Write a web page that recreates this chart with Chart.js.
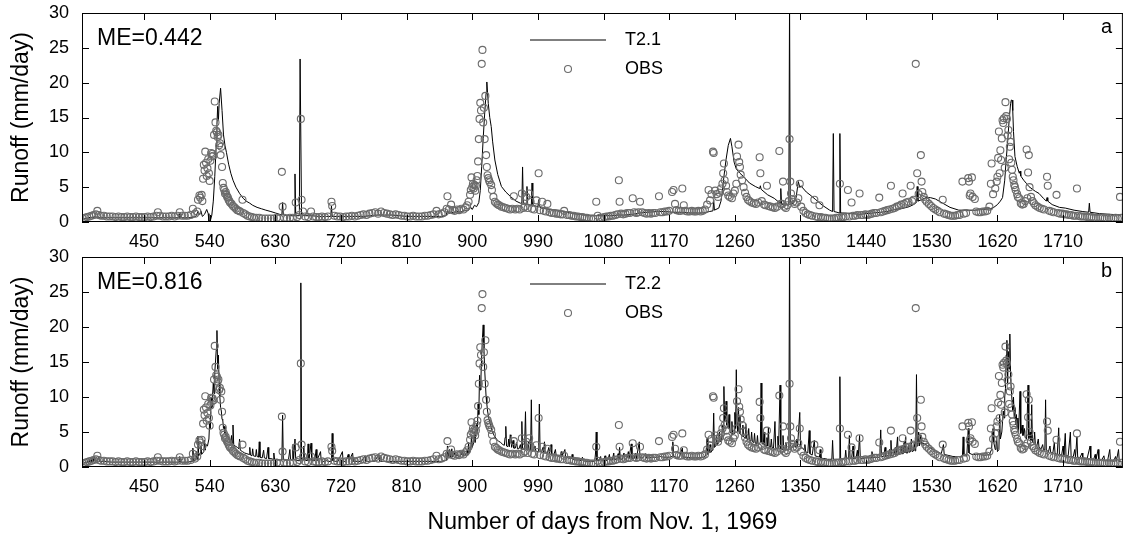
<!DOCTYPE html>
<html>
<head>
<meta charset="utf-8">
<title>Runoff T2.1 / T2.2 vs OBS</title>
<script src="https://cdn.jsdelivr.net/npm/chart.js@4.4.0/dist/chart.umd.min.js"></script>
<style>
    html, body { margin: 0; padding: 0; background: #fff; }
    #wrap { position: relative; width: 1128px; height: 539px; }
    .panel { position: absolute; left: 0; width: 1128px; }
</style>
</head>
<body>
<div id="wrap">
    <div class="panel" style="top:0;height:252px"><canvas id="panel-a"></canvas></div>
    <div class="panel" style="top:240px;height:299px"><canvas id="panel-b"></canvas></div>
</div>
<script>
// ---- data ----
const xTickDays = [450, 540, 630, 720, 810, 900, 990, 1080, 1170, 1260, 1350, 1440, 1530, 1620, 1710];
const yTickRunoff = [0, 5, 10, 15, 20, 25, 30];

// observed runoff (mm/day)
const obsDays = [
    366, 369, 372, 375, 378, 381, 384, 386, 388, 391, 395, 399, 403, 407, 411, 415, 419, 423, 427, 431,
    435, 439, 443, 447, 451, 455, 459, 463, 467, 469, 472, 476, 480, 484, 488, 492, 496, 499, 502, 506,
    510, 514, 517, 520, 523, 524, 526, 527, 529, 530, 531, 532, 533, 534, 535, 536, 537, 538, 539, 540,
    541, 542, 543, 544, 545, 546, 547, 548, 549, 550, 551, 552, 553, 554, 555, 556, 557, 558, 559, 560,
    561, 562, 563, 564, 565, 566, 567, 568, 570, 572, 574, 576, 578, 580, 582, 585, 586, 589, 592, 595,
    598, 601, 604, 608, 612, 616, 620, 624, 628, 632, 636, 639, 640, 642, 646, 650, 654, 658, 660, 663,
    665, 666, 668, 671, 675, 679, 682, 686, 690, 694, 698, 702, 707, 708, 711, 715, 719, 723, 727, 731,
    735, 739, 743, 747, 751, 755, 759, 763, 767, 771, 775, 779, 783, 787, 791, 795, 799, 803, 807, 811,
    815, 819, 823, 827, 831, 835, 839, 843, 847, 851, 854, 858, 862, 865, 866, 868, 871, 873, 876, 879,
    882, 885, 888, 891, 893, 895, 897, 898, 899, 900, 901, 902, 903, 904, 905, 906, 907, 908, 909, 910,
    911, 912, 913, 914, 915, 916, 917, 918, 919, 920, 921, 922, 923, 924, 926, 927, 929, 931, 933, 935,
    937, 940, 943, 946, 949, 952, 955, 957, 959, 962, 965, 968, 970, 972, 974, 976, 978, 980, 982, 985,
    988, 991, 993, 996, 998, 1001, 1003, 1006, 1009, 1012, 1015, 1018, 1021, 1024, 1026, 1030, 1033, 1036, 1039,
    1042, 1045, 1048, 1051, 1054, 1057, 1060, 1063, 1066, 1070, 1072, 1075, 1078, 1081, 1084, 1087, 1090, 1093, 1096, 1099,
    1101, 1102, 1104, 1107, 1110, 1113, 1116, 1120, 1122, 1125, 1128, 1130, 1133, 1136, 1139, 1142, 1145, 1148, 1151, 1156,
    1158, 1161, 1164, 1167, 1170, 1174, 1176, 1178, 1180, 1183, 1186, 1188, 1190, 1192, 1195, 1198, 1201, 1204, 1207, 1210,
    1213, 1216, 1219, 1222, 1224, 1226, 1228, 1230, 1231, 1233, 1235, 1237, 1239, 1241, 1243, 1244, 1245, 1246, 1248, 1249,
    1251, 1253, 1256, 1258, 1260, 1262, 1263, 1265, 1266, 1267, 1268, 1270, 1272, 1274, 1276, 1278, 1280, 1283, 1286, 1289,
    1292, 1294, 1295, 1297, 1300, 1302, 1304, 1306, 1309, 1312, 1315, 1318, 1321, 1323, 1325, 1326, 1328, 1330, 1332, 1334,
    1335, 1336, 1337, 1338, 1340, 1342, 1345, 1347, 1349, 1351, 1354, 1357, 1360, 1363, 1366, 1369, 1371, 1374, 1376, 1378,
    1381, 1384, 1387, 1390, 1393, 1396, 1399, 1402, 1404, 1406, 1409, 1412, 1415, 1417, 1420, 1422, 1425, 1428, 1431, 1433,
    1436, 1439, 1442, 1445, 1448, 1451, 1454, 1458, 1460, 1463, 1466, 1469, 1472, 1474, 1476, 1479, 1482, 1485, 1488, 1490,
    1492, 1495, 1498, 1501, 1503, 1505, 1508, 1510, 1512, 1515, 1516, 1517, 1519, 1521, 1523, 1526, 1529, 1532, 1535, 1538,
    1541, 1545, 1547, 1550, 1553, 1556, 1559, 1562, 1565, 1568, 1572, 1574, 1577, 1580, 1581, 1582, 1583, 1585, 1586, 1589,
    1591, 1594, 1597, 1600, 1603, 1606, 1609, 1611, 1612, 1614, 1617, 1619, 1620, 1621, 1622, 1623, 1624, 1625, 1626, 1627,
    1628, 1629, 1630, 1631, 1632, 1633, 1634, 1635, 1636, 1637, 1638, 1639, 1640, 1641, 1642, 1643, 1644, 1645, 1647, 1648,
    1650, 1652, 1654, 1656, 1658, 1660, 1661, 1662, 1663, 1664, 1666, 1668, 1670, 1672, 1675, 1678, 1681, 1684, 1688, 1689,
    1691, 1694, 1697, 1701, 1703, 1706, 1709, 1712, 1715, 1718, 1721, 1724, 1727, 1729, 1731, 1734, 1737, 1740, 1743, 1746,
    1749, 1752, 1755, 1758, 1761, 1764, 1767, 1770, 1773, 1776, 1779, 1782, 1785, 1788, 1790
];
const obsRunoff = [
    0.5, 0.6, 0.7, 0.8, 0.9, 1.0, 1.1, 1.6, 1.0, 0.9, 0.9, 0.8, 0.8, 0.8, 0.7, 0.8, 0.7, 0.7, 0.8, 0.7,
    0.7, 0.8, 0.7, 0.7, 0.7, 0.8, 0.7, 0.8, 0.9, 1.4, 0.9, 0.8, 0.8, 0.8, 0.9, 0.8, 0.9, 1.4, 0.9, 0.9,
    0.9, 1.0, 1.9, 1.2, 1.5, 3.2, 3.8, 3.5, 3.9, 3.0, 6.2, 8.2, 7.4, 10.1, 8.5, 6.6, 7.7, 9.0, 7.0, 5.9,
    8.8, 9.9, 9.4, 9.8, 9.5, 12.5, 17.3, 14.3, 13.1, 12.9, 12.2, 12.5, 11.0, 11.3, 9.6, 10.8, 7.9, 5.6, 4.9, 4.6,
    4.1, 4.3, 3.9, 3.6, 3.5, 3.2, 3.0, 2.8, 2.6, 2.3, 2.1, 1.9, 1.7, 1.6, 1.5, 3.2, 1.3, 1.1, 0.9, 0.8,
    0.7, 0.6, 0.6, 0.6, 0.5, 0.5, 0.5, 0.5, 0.5, 0.6, 0.5, 7.2, 2.2, 0.6, 0.5, 0.6, 0.6, 2.8, 0.7, 1.0,
    14.8, 3.2, 1.5, 0.8, 0.7, 1.5, 0.8, 0.7, 0.7, 0.8, 0.7, 0.8, 2.9, 2.3, 0.9, 0.8, 0.8, 0.7, 0.8, 0.8,
    0.9, 0.8, 0.9, 1.0, 1.1, 1.0, 1.2, 1.3, 1.4, 1.2, 1.5, 1.3, 1.2, 1.1, 1.0, 1.1, 1.0, 0.9, 0.9, 0.8,
    0.8, 0.9, 0.8, 0.8, 0.8, 0.9, 0.9, 1.0, 1.1, 1.6, 1.1, 1.2, 1.4, 1.9, 3.7, 1.8, 2.5, 1.7, 1.6, 1.8,
    1.7, 1.9, 1.8, 2.1, 2.4, 2.9, 3.9, 4.6, 6.4, 5.0, 5.5, 4.8, 5.3, 4.5, 5.2, 6.0, 6.6, 8.7, 11.9, 14.8,
    17.1, 16.0, 22.7, 24.7, 14.3, 16.4, 11.9, 18.1, 9.6, 7.9, 6.7, 6.3, 6.0, 5.7, 5.3, 4.6, 3.6, 2.9, 2.7, 2.5,
    2.4, 2.2, 2.1, 2.0, 1.9, 1.8, 1.9, 3.7, 1.8, 1.9, 1.8, 4.1, 2.0, 2.2, 3.6, 2.0, 4.1, 2.9, 1.9, 1.8,
    3.1, 7.0, 1.7, 2.9, 1.6, 1.5, 2.6, 1.4, 1.3, 1.3, 1.2, 1.2, 1.1, 1.1, 1.6, 1.0, 1.0, 0.9, 0.9,
    0.8, 0.8, 0.7, 0.7, 0.6, 0.6, 0.5, 0.5, 0.5, 2.9, 0.9, 0.6, 0.6, 0.7, 0.8, 0.8, 0.9, 0.9, 1.0, 1.1,
    6.0, 2.9, 1.2, 1.1, 1.2, 1.3, 1.3, 3.4, 1.4, 1.3, 1.4, 2.9, 1.4, 1.3, 1.2, 1.3, 1.2, 1.3, 1.3, 3.7,
    1.4, 1.4, 1.5, 1.5, 1.6, 4.3, 4.6, 2.6, 1.7, 1.6, 1.6, 4.8, 2.4, 1.6, 1.5, 1.5, 1.6, 1.5, 1.5, 1.6,
    1.5, 1.6, 1.8, 2.5, 4.6, 3.1, 4.0, 10.1, 9.9, 4.5, 4.0, 3.6, 4.2, 4.8, 5.5, 7.0, 8.4, 6.0, 5.2, 4.3,
    3.8, 3.6, 3.4, 4.1, 4.5, 5.5, 9.4, 11.1, 8.6, 7.9, 6.8, 6.0, 5.0, 4.2, 3.6, 3.2, 3.0, 2.8, 2.7, 2.6,
    2.8, 9.3, 7.0, 3.0, 2.5, 2.4, 5.2, 2.3, 2.2, 2.1, 2.0, 2.2, 10.2, 2.6, 2.6, 5.8, 2.2, 2.0, 2.4, 3.0,
    11.9, 5.8, 4.1, 3.3, 2.9, 2.6, 2.8, 3.4, 5.5, 2.2, 1.6, 1.3, 1.1, 1.0, 0.9, 3.2, 0.8, 0.7, 2.4, 0.7,
    0.6, 0.6, 0.5, 0.5, 0.5, 0.5, 0.6, 0.6, 5.5, 0.7, 0.7, 0.8, 4.6, 0.8, 2.8, 0.9, 0.9, 1.0, 4.1, 1.0,
    1.0, 1.1, 1.0, 1.1, 1.2, 1.3, 1.3, 3.5, 1.4, 1.5, 1.6, 1.7, 1.8, 5.2, 1.9, 2.0, 2.2, 2.3, 2.5, 4.1,
    2.6, 2.8, 2.9, 5.2, 3.0, 3.2, 22.7, 7.0, 4.0, 9.6, 5.8, 4.3, 3.6, 3.2, 2.9, 2.6, 2.3, 2.0, 1.8, 1.6,
    1.4, 3.2, 1.2, 1.1, 1.0, 0.9, 0.9, 0.9, 1.0, 1.0, 5.8, 1.2, 1.3, 6.3, 5.8, 3.8, 4.1, 6.4, 3.6, 3.3,
    1.5, 1.4, 1.4, 1.5, 1.5, 1.6, 2.2, 5.5, 8.4, 4.0, 4.8, 5.8, 6.5, 9.2, 13.0, 7.0, 10.3, 8.9, 12.0, 14.6,
    14.2, 14.9, 7.8, 17.2, 15.2, 14.8, 12.4, 13.2, 9.0, 10.8, 11.5, 8.5, 7.5, 6.5, 6.0, 5.3, 5.0, 4.6, 4.0, 3.6,
    3.4, 2.7, 2.5, 2.6, 3.0, 10.4, 3.4, 7.1, 9.6, 5.0, 3.6, 3.0, 2.7, 2.4, 2.2, 2.0, 1.9, 1.8, 6.5, 5.2,
    1.6, 1.5, 1.4, 3.9, 1.3, 1.2, 1.2, 1.1, 1.1, 1.0, 1.0, 0.9, 0.9, 4.8, 0.9, 0.8, 0.8, 0.8, 0.7, 0.7,
    0.7, 0.6, 0.6, 0.6, 0.6, 0.6, 0.5, 0.5, 0.6, 0.5, 0.5, 0.6, 0.5, 3.6, 0.6
];

// simulation T2.1 (mm/day)
const t21Days = [
    366, 370, 374, 377, 380, 383, 386, 390, 400, 410, 420, 430, 440, 450, 460, 470, 480, 490, 498, 499,
    500, 510, 518, 521, 524, 526, 528, 530, 533, 536, 538, 539, 541, 543, 545, 547, 549, 550, 551, 552,
    553, 555, 557, 559, 561, 563, 566, 569, 572, 576, 581, 586, 590, 595, 599, 605, 611, 617, 624, 630,
    636, 639, 640, 641, 648, 656, 657, 658, 663, 664, 665, 666, 672, 680, 690, 700, 706, 707, 708, 720,
    730, 740, 750, 760, 770, 780, 790, 800, 810, 820, 830, 840, 850, 860, 864, 866, 868, 871, 874, 878,
    882, 886, 890, 894, 898, 900, 903, 906, 909, 911, 913, 915, 917, 919, 920, 922, 924, 926, 928, 931,
    935, 940, 946, 953, 960, 966, 968, 969, 970, 974, 975, 976, 981, 982, 983, 990, 991, 992, 995, 1005,
    1015, 1026, 1035, 1045, 1055, 1063, 1070, 1080, 1090, 1100, 1108, 1120, 1130, 1140, 1154, 1165, 1175, 1185, 1199, 1210,
    1217, 1225, 1230, 1231, 1232, 1238, 1241, 1243, 1245, 1248, 1251, 1254, 1256, 1259, 1262, 1267, 1272, 1280, 1288, 1294,
    1295, 1296, 1305, 1314, 1322, 1323, 1324, 1328, 1333, 1334, 1335, 1336, 1340, 1344, 1347, 1349, 1351, 1353, 1358, 1363,
    1371, 1380, 1390, 1394, 1395, 1396, 1400, 1403, 1404, 1405, 1408, 1420, 1431, 1440, 1450, 1460, 1468, 1476, 1485, 1492,
    1499, 1505, 1509, 1510, 1511, 1516, 1522, 1528, 1535, 1545, 1555, 1567, 1578, 1590, 1600, 1610, 1615, 1620, 1624, 1627,
    1630, 1632, 1634, 1636, 1638, 1639, 1640, 1641, 1642, 1644, 1647, 1650, 1651, 1652, 1656, 1660, 1663, 1668, 1672, 1677,
    1683, 1687, 1688, 1689, 1695, 1705, 1713, 1725, 1737, 1745, 1746, 1747, 1760, 1775, 1790
];
const t21Runoff = [
    0.4, 0.5, 0.6, 0.7, 0.6, 0.8, 0.6, 0.6, 0.6, 0.6, 0.6, 0.6, 0.6, 0.6, 0.6, 0.6, 0.6, 0.6, 0.6, 1.2,
    0.6, 0.6, 0.7, 0.8, 1.5, 1.0, 1.6, 0.8, 1.1, 1.8, 1.2, 0.1, 0.2, 1.0, 3.0, 6.5, 11.0, 14.0, 16.6, 14.5,
    17.0, 19.2, 16.0, 12.5, 11.0, 10.0, 8.3, 7.0, 6.0, 5.0, 4.1, 3.4, 3.0, 2.7, 2.4, 2.1, 1.9, 1.7, 1.5, 1.3,
    1.1, 1.0, 2.8, 1.0, 0.9, 0.9, 6.9, 0.9, 0.9, 23.4, 23.4, 1.0, 0.9, 0.9, 0.8, 0.8, 0.8, 2.3, 0.8, 0.8,
    0.8, 0.8, 0.8, 0.9, 1.0, 1.0, 1.0, 0.9, 0.8, 0.8, 0.8, 0.8, 0.8, 0.8, 0.9, 1.6, 1.2, 1.5, 1.3, 1.6,
    1.4, 1.5, 1.7, 1.6, 2.1, 1.8, 2.4, 2.2, 2.8, 4.5, 8.0, 12.0, 15.5, 18.5, 20.1, 17.0, 15.0, 13.7, 11.5, 8.9,
    6.8, 5.1, 4.3, 3.6, 3.0, 2.7, 2.7, 7.9, 2.7, 2.5, 5.1, 2.5, 2.4, 5.6, 2.4, 2.2, 3.2, 2.2, 2.0, 1.8,
    1.7, 1.5, 1.3, 1.1, 1.0, 0.9, 0.9, 0.9, 0.9, 1.0, 1.0, 1.1, 1.3, 1.4, 1.5, 1.5, 1.4, 1.4, 1.3, 1.3,
    1.3, 1.5, 1.6, 3.2, 1.7, 2.0, 3.0, 4.5, 6.5, 9.0, 11.0, 12.0, 10.8, 8.6, 7.6, 7.0, 6.5, 5.6, 5.1, 4.8,
    5.2, 4.7, 3.9, 3.4, 2.7, 4.8, 2.6, 2.4, 2.5, 2.6, 32, 2.7, 2.6, 3.5, 5.8, 5.0, 5.2, 4.9, 4.3, 3.9,
    3.2, 2.4, 1.7, 1.5, 12.7, 1.5, 1.4, 1.3, 12.7, 1.3, 1.3, 1.2, 1.1, 1.2, 1.3, 1.4, 1.5, 1.7, 1.9, 2.0,
    2.2, 2.5, 2.8, 5.1, 3.0, 3.2, 3.5, 3.5, 3.3, 2.7, 2.1, 1.7, 1.7, 1.7, 1.8, 1.9, 2.1, 2.5, 3.0, 3.5,
    6.0, 9.0, 11.5, 14.5, 17.0, 17.5, 17.5, 16.0, 13.0, 9.4, 8.0, 7.0, 7.3, 6.6, 6.0, 5.5, 5.1, 4.7, 4.4, 4.1,
    3.4, 3.0, 3.5, 3.0, 2.5, 2.1, 2.0, 1.7, 1.5, 1.4, 2.7, 1.4, 1.2, 1.1, 1.0
];

// simulation T2.2 (mm/day)
const t22Days = [
    366, 368, 370, 371, 373, 374, 376, 377, 379, 380, 382, 383, 386, 388, 389, 395, 405, 415, 425, 435,
    445, 455, 465, 475, 485, 495, 498, 499, 500, 510, 516, 517, 518, 521, 522, 523, 524, 525, 527, 528,
    529, 532, 533, 534, 535, 537, 539, 540, 541, 542, 543, 545, 546, 547, 548, 549, 550, 551, 552, 553,
    554, 555, 556, 557, 558, 559, 560, 561, 563, 565, 567, 569, 570, 571, 572, 573, 575, 578, 580, 581,
    582, 585, 588, 591, 594, 595, 596, 598, 599, 600, 603, 604, 605, 607, 608, 609, 612, 614, 615, 618,
    620, 621, 624, 627, 628, 629, 633, 636, 639, 640, 641, 645, 648, 650, 651, 653, 654, 655, 657, 658,
    661, 664, 665, 666, 668, 669, 670, 674, 675, 676, 679, 680, 684, 686, 687, 692, 693, 697, 700, 703,
    707, 708, 709, 713, 716, 722, 723, 727, 730, 731, 736, 737, 742, 748, 753, 754, 760, 766, 772, 773,
    778, 785, 790, 800, 810, 820, 830, 840, 850, 858, 862, 865, 866, 867, 869, 870, 872, 873, 876, 877,
    879, 881, 884, 887, 888, 891, 893, 894, 895, 896, 898, 899, 900, 902, 903, 904, 906, 907, 908, 909,
    910, 911, 912, 913, 914, 915, 916, 917, 918, 919, 920, 921, 923, 925, 927, 930, 933, 936, 939, 942,
    944, 945, 946, 947, 949, 950, 951, 952, 953, 954, 956, 957, 959, 961, 962, 964, 966, 967, 968, 969,
    971, 972, 973, 974, 976, 977, 978, 980, 981, 982, 984, 986, 987, 989, 991, 992, 993, 995, 997, 998,
    999, 1000, 1003, 1005, 1006, 1008, 1009, 1012, 1014, 1015, 1018, 1021, 1022, 1023, 1027, 1028, 1032, 1036, 1037, 1038,
    1042, 1046, 1050, 1051, 1052, 1056, 1060, 1064, 1068, 1069, 1070, 1071, 1074, 1076, 1077, 1080, 1082, 1083, 1086, 1088,
    1089, 1092, 1094, 1095, 1098, 1100, 1101, 1102, 1103, 1106, 1108, 1109, 1112, 1114, 1115, 1118, 1119, 1122, 1124, 1125,
    1129, 1130, 1134, 1137, 1138, 1142, 1146, 1150, 1154, 1158, 1162, 1166, 1170, 1174, 1175, 1176, 1180, 1184, 1188, 1189,
    1194, 1200, 1206, 1212, 1217, 1220, 1221, 1222, 1223, 1225, 1226, 1227, 1229, 1230, 1231, 1232, 1234, 1235, 1236, 1238,
    1239, 1240, 1242, 1243, 1244, 1245, 1246, 1247, 1248, 1249, 1251, 1252, 1253, 1255, 1256, 1257, 1259, 1260, 1261, 1262,
    1263, 1264, 1265, 1266, 1267, 1268, 1270, 1271, 1272, 1274, 1275, 1276, 1278, 1279, 1280, 1282, 1283, 1284, 1286, 1287,
    1288, 1290, 1291, 1292, 1295, 1296, 1297, 1299, 1300, 1301, 1303, 1304, 1305, 1306, 1307, 1309, 1310, 1311, 1313, 1315,
    1316, 1318, 1319, 1320, 1322, 1323, 1325, 1326, 1327, 1329, 1330, 1331, 1333, 1334, 1335, 1336, 1338, 1340, 1342, 1343,
    1345, 1346, 1349, 1350, 1352, 1355, 1356, 1357, 1360, 1362, 1363, 1366, 1369, 1370, 1373, 1376, 1377, 1378, 1381, 1384,
    1387, 1390, 1393, 1394, 1395, 1398, 1400, 1403, 1404, 1405, 1408, 1411, 1412, 1413, 1416, 1417, 1418, 1420, 1422, 1423,
    1426, 1428, 1429, 1431, 1432, 1435, 1438, 1441, 1444, 1447, 1448, 1449, 1452, 1455, 1458, 1459, 1460, 1461, 1464, 1466,
    1467, 1470, 1472, 1473, 1474, 1475, 1478, 1480, 1481, 1483, 1484, 1486, 1488, 1489, 1491, 1492, 1493, 1494, 1495, 1497,
    1498, 1499, 1501, 1502, 1503, 1505, 1506, 1507, 1508, 1509, 1510, 1511, 1512, 1513, 1515, 1516, 1518, 1520, 1523, 1527,
    1531, 1535, 1539, 1543, 1546, 1547, 1551, 1555, 1559, 1563, 1567, 1572, 1573, 1574, 1578, 1580, 1581, 1585, 1590, 1595,
    1600, 1605, 1609, 1612, 1613, 1614, 1615, 1617, 1618, 1619, 1620, 1622, 1623, 1624, 1626, 1627, 1628, 1629, 1630, 1631,
    1632, 1633, 1634, 1635, 1636, 1637, 1638, 1639, 1640, 1641, 1642, 1643, 1644, 1645, 1646, 1647, 1648, 1649, 1651, 1652,
    1654, 1655, 1657, 1658, 1660, 1662, 1663, 1665, 1666, 1667, 1668, 1670, 1671, 1672, 1674, 1676, 1677, 1680, 1682, 1683,
    1685, 1686, 1687, 1690, 1692, 1693, 1696, 1698, 1699, 1702, 1704, 1705, 1708, 1710, 1711, 1713, 1714, 1717, 1720, 1721,
    1724, 1726, 1727, 1729, 1730, 1733, 1736, 1737, 1740, 1743, 1747, 1748, 1752, 1754, 1755, 1758, 1759, 1763, 1766, 1767,
    1771, 1774, 1775, 1779, 1782, 1783, 1786, 1787, 1790
];
const t22Runoff = [
    0.3, 0.5, 0.8, 0.4, 0.9, 0.5, 1.0, 0.6, 1.2, 0.7, 1.4, 0.8, 0.9, 1.5, 0.8, 0.8, 0.7, 0.7, 0.7, 0.7,
    0.7, 0.7, 0.7, 0.7, 0.7, 0.7, 0.7, 1.5, 0.7, 0.7, 0.8, 2.7, 0.9, 1.0, 2.2, 1.1, 4.4, 1.6, 2.0, 3.0,
    1.8, 2.2, 3.8, 2.4, 3.2, 3.0, 4.0, 6.5, 5.5, 10.0, 8.5, 12.0, 10.5, 13.5, 15.0, 16.7, 19.5, 14.0, 16.0, 12.0,
    10.0, 8.5, 8.0, 6.8, 6.7, 5.5, 5.8, 4.8, 4.5, 4.2, 4.0, 3.6, 4.5, 3.4, 6.0, 3.2, 3.0, 2.8, 2.6, 4.0,
    2.4, 2.2, 2.0, 1.9, 1.8, 2.8, 1.7, 1.6, 2.6, 1.6, 1.5, 2.5, 1.5, 1.4, 3.6, 1.4, 1.3, 2.4, 1.3, 1.2,
    2.8, 1.2, 1.2, 1.1, 2.0, 1.1, 1.1, 1.0, 1.0, 7.4, 1.0, 1.0, 1.0, 2.5, 1.0, 1.0, 3.2, 1.0, 4.0, 1.0,
    0.9, 0.9, 26.3, 1.0, 1.0, 3.0, 1.0, 0.9, 3.3, 0.9, 3.4, 0.9, 0.9, 2.5, 0.9, 2.2, 0.8, 0.8, 0.9, 0.8,
    0.8, 4.8, 0.9, 0.8, 0.8, 2.2, 0.8, 0.8, 1.8, 0.8, 2.0, 0.8, 0.8, 0.8, 1.6, 0.8, 0.8, 0.8, 1.8, 0.8,
    0.8, 0.8, 0.8, 0.8, 0.8, 0.8, 0.8, 0.8, 0.8, 0.8, 0.9, 1.0, 3.0, 1.4, 2.5, 1.3, 2.6, 1.4, 2.0, 1.4,
    1.8, 1.5, 1.6, 2.2, 1.6, 1.7, 2.4, 1.8, 3.5, 2.0, 2.5, 4.6, 2.8, 3.5, 5.0, 3.5, 6.2, 5.0, 9.0, 7.5,
    13.1, 11.0, 13.0, 16.0, 18.5, 20.3, 17.0, 14.0, 12.0, 10.0, 9.0, 8.0, 6.8, 6.0, 5.2, 4.5, 4.0, 3.7, 3.5, 3.2,
    3.1, 4.2, 5.8, 3.0, 2.9, 4.0, 2.9, 4.6, 4.4, 2.8, 3.8, 2.7, 2.7, 3.5, 2.6, 2.6, 3.2, 2.5, 6.5, 2.5,
    2.5, 4.0, 7.9, 2.5, 2.4, 3.6, 2.4, 2.4, 9.6, 2.4, 2.3, 3.0, 2.3, 2.2, 2.2, 9.0, 2.2, 2.1, 2.8, 2.1,
    3.6, 2.0, 2.0, 2.8, 1.9, 3.2, 1.8, 1.8, 2.5, 1.7, 1.6, 1.6, 2.2, 1.5, 2.5, 1.4, 1.3, 1.2, 1.8, 1.1,
    1.0, 1.0, 0.9, 1.4, 0.9, 0.8, 0.8, 0.8, 0.8, 2.0, 5.0, 0.9, 0.9, 1.5, 0.9, 0.9, 1.6, 0.9, 1.0, 1.8,
    1.0, 1.0, 2.0, 1.0, 1.1, 1.9, 1.1, 2.8, 1.1, 1.1, 2.0, 1.1, 1.2, 2.2, 1.2, 3.3, 1.2, 1.2, 2.0, 1.2,
    3.6, 1.3, 1.3, 1.9, 1.3, 1.3, 1.4, 1.4, 1.4, 1.5, 1.4, 1.4, 1.4, 1.5, 3.6, 1.5, 1.4, 1.4, 2.7, 1.4,
    1.4, 1.3, 1.3, 1.3, 1.4, 1.6, 2.8, 4.1, 1.8, 2.0, 3.2, 2.1, 2.4, 3.5, 7.7, 2.8, 3.0, 4.5, 3.2, 3.5,
    5.0, 3.6, 4.0, 6.0, 5.0, 11.5, 6.5, 7.0, 9.4, 6.0, 5.5, 7.5, 5.0, 4.8, 6.5, 4.6, 4.8, 7.8, 5.5, 13.9,
    6.0, 5.0, 8.5, 4.8, 7.3, 4.6, 4.4, 6.0, 4.3, 4.2, 6.2, 4.0, 3.9, 5.5, 3.8, 3.7, 5.0, 3.6, 3.5, 4.8,
    3.4, 3.3, 4.5, 3.2, 3.5, 12.0, 3.4, 3.2, 5.0, 3.1, 3.0, 4.2, 3.0, 5.6, 2.9, 2.8, 4.0, 2.8, 2.7, 6.5,
    2.7, 2.6, 4.4, 2.6, 11.7, 2.6, 2.5, 4.5, 2.5, 2.4, 3.5, 2.4, 2.5, 2.6, 32, 3.0, 2.8, 2.9, 3.5, 2.8,
    4.0, 3.0, 7.8, 3.0, 2.8, 2.4, 3.2, 2.2, 2.0, 5.2, 1.9, 1.7, 3.8, 1.6, 1.5, 1.4, 2.5, 1.3, 1.2, 1.2,
    1.1, 1.1, 1.1, 3.8, 1.1, 1.1, 1.1, 1.1, 12.9, 1.2, 1.2, 1.2, 2.4, 1.2, 1.2, 4.5, 1.2, 1.2, 3.0, 1.2,
    1.2, 2.4, 1.2, 4.5, 1.2, 1.2, 1.3, 1.3, 1.3, 1.3, 2.2, 1.3, 1.4, 1.4, 1.4, 2.6, 5.3, 1.5, 1.5, 2.8,
    1.5, 1.6, 2.5, 1.6, 3.8, 1.6, 1.7, 2.8, 1.7, 4.3, 1.8, 1.8, 3.0, 1.9, 1.9, 3.5, 2.0, 4.3, 2.0, 2.0,
    3.2, 2.1, 2.2, 4.0, 2.2, 2.3, 3.5, 2.3, 2.4, 13.2, 3.0, 3.2, 5.0, 3.0, 4.6, 3.2, 3.4, 3.3, 3.1, 2.8,
    2.5, 2.3, 2.1, 1.9, 3.2, 1.8, 1.7, 1.6, 1.5, 1.5, 1.5, 1.5, 4.3, 1.6, 1.6, 5.5, 2.0, 1.8, 1.8, 1.8,
    1.7, 1.7, 1.8, 2.5, 4.5, 5.5, 3.5, 2.5, 3.0, 4.3, 2.2, 2.5, 7.4, 4.0, 5.0, 6.5, 8.0, 7.0, 10.0, 11.2,
    16.0, 18.1, 12.0, 16.5, 14.0, 19.0, 13.0, 11.0, 9.5, 8.0, 10.0, 7.0, 8.5, 6.0, 7.5, 5.5, 7.0, 5.0, 10.8, 4.8,
    6.0, 4.5, 5.5, 4.2, 4.0, 11.7, 4.0, 5.0, 3.8, 8.9, 3.6, 3.4, 5.0, 3.2, 3.0, 4.0, 2.8, 2.6, 3.2, 2.5,
    2.4, 9.6, 2.4, 2.2, 3.0, 2.1, 2.0, 3.5, 1.9, 1.8, 5.6, 1.8, 1.7, 3.0, 1.7, 4.8, 1.6, 1.6, 5.0, 1.5,
    1.5, 2.5, 1.4, 4.3, 1.4, 1.3, 2.0, 1.3, 1.2, 1.2, 3.0, 1.1, 1.1, 1.8, 1.0, 2.5, 1.0, 1.0, 1.6, 0.9,
    0.9, 2.5, 0.9, 0.8, 1.5, 0.8, 2.5, 0.8, 0.8
];

// ---- drawing ----
const FONT = '"Liberation Sans", Arial, Helvetica, sans-serif';
Chart.defaults.font.family = FONT;
Chart.defaults.color = '#000';

const OBS_COLOR = '#6b6b6b';
const LINE_COLOR = '#000';

function toPoints(days, values) {
    return days.map((d, i) => ({ x: d, y: values[i] }));
}

// gnuplot-like frame: box, inward ticks on all four sides, inset legend and labels
const framePlugin = {
    id: 'frame',
    afterDatasetsDraw(chart, args, opts) {
        const { ctx, chartArea: a, scales } = chart;
        const x = scales.x, y = scales.y;
        ctx.save();
        ctx.strokeStyle = '#000';
        ctx.lineWidth = 1;
        ctx.strokeRect(a.left + 0.5, a.top + 0.5, a.right - a.left - 1, a.bottom - a.top - 1);

        const tl = 7;
        ctx.beginPath();
        xTickDays.forEach(d => {
            const px = Math.round(x.getPixelForValue(d)) + 0.5;
            ctx.moveTo(px, a.bottom); ctx.lineTo(px, a.bottom - tl);
            ctx.moveTo(px, a.top); ctx.lineTo(px, a.top + tl);
        });
        yTickRunoff.forEach(v => {
            const py = Math.round(y.getPixelForValue(v)) + 0.5;
            ctx.moveTo(a.left, py); ctx.lineTo(a.left + tl, py);
            ctx.moveTo(a.right, py); ctx.lineTo(a.right - tl, py);
        });
        ctx.stroke();

        // legend
        const lx0 = 530, lx1 = 606, tx = 625;
        ctx.strokeStyle = LINE_COLOR;
        ctx.beginPath();
        ctx.moveTo(lx0, a.top + 27); ctx.lineTo(lx1, a.top + 27);
        ctx.stroke();
        ctx.strokeStyle = OBS_COLOR;
        ctx.lineWidth = 1.1;
        ctx.beginPath();
        ctx.arc(568, a.top + 56, 3.5, 0, Math.PI * 2);
        ctx.stroke();

        ctx.fillStyle = '#000';
        ctx.textBaseline = 'middle';
        ctx.textAlign = 'left';
        ctx.font = '18px ' + FONT;
        ctx.fillText(opts.lineLabel, tx, a.top + 27);
        ctx.fillText('OBS', tx, a.top + 56);

        ctx.textBaseline = 'alphabetic';
        ctx.font = '23px ' + FONT;
        ctx.fillText(opts.score, 97, a.top + 32);
        ctx.textAlign = 'right';
        ctx.font = '20px ' + FONT;
        ctx.fillText(opts.tag, 1112, a.top + 20);
        ctx.restore();
    }
};

function makePanel(canvasId, cfg) {
    return new Chart(document.getElementById(canvasId), {
        type: 'scatter',
        data: {
            datasets: [
                {
                    label: 'OBS',
                    data: toPoints(obsDays, obsRunoff),
                    showLine: false,
                    pointStyle: 'circle',
                    pointRadius: 3.5,
                    pointBorderWidth: 1.1,
                    pointBorderColor: OBS_COLOR,
                    pointBackgroundColor: 'rgba(0,0,0,0)',
                    order: 0
                },
                {
                    label: cfg.lineLabel,
                    data: toPoints(cfg.days, cfg.values),
                    showLine: true,
                    borderColor: LINE_COLOR,
                    borderWidth: 1,
                    pointRadius: 0,
                    tension: 0,
                    order: 1
                }
            ]
        },
        options: {
            responsive: true,
            maintainAspectRatio: false,
            animation: false,
            events: [],
            layout: { padding: { top: cfg.padTop, right: 1, left: 0, bottom: 0 } },
            plugins: {
                legend: { display: false },
                tooltip: { enabled: false },
                frame: { lineLabel: cfg.lineLabel, score: cfg.score, tag: cfg.tag }
            },
            scales: {
                x: {
                    type: 'linear',
                    min: 365,
                    max: 1792,
                    grid: { display: false, drawTicks: false },
                    border: { display: false },
                    afterBuildTicks: axis => { axis.ticks = xTickDays.map(v => ({ value: v })); },
                    afterFit: axis => {
                        axis.height = cfg.xAxisHeight;
                        axis.paddingLeft = 0;
                        axis.paddingRight = 0;
                    },
                    ticks: {
                        autoSkip: false,
                        maxRotation: 0,
                        padding: 9,
                        font: { size: 18 },
                        callback: v => String(v)
                    },
                    title: {
                        display: cfg.showXTitle,
                        text: 'Number of days from Nov. 1, 1969',
                        font: { size: 23 },
                        padding: { top: 0, bottom: 3 }
                    }
                },
                y: {
                    min: 0,
                    max: 30,
                    grid: { display: false, drawTicks: false },
                    border: { display: false },
                    afterBuildTicks: axis => { axis.ticks = yTickRunoff.map(v => ({ value: v })); },
                    afterFit: axis => {
                        axis.width = 82;
                        axis.paddingTop = 0;
                        axis.paddingBottom = 0;
                    },
                    ticks: {
                        padding: 13,
                        font: { size: 18 },
                        callback: v => String(v)
                    },
                    title: {
                        display: true,
                        text: 'Runoff (mm/day)',
                        font: { size: 23 },
                        padding: { top: 8, bottom: 0 }
                    }
                }
            }
        },
        plugins: [framePlugin]
    });
}

makePanel('panel-a', {
    days: t21Days, values: t21Runoff, lineLabel: 'T2.1', score: 'ME=0.442', tag: 'a',
    padTop: 13, xAxisHeight: 30, showXTitle: false
});
makePanel('panel-b', {
    days: t22Days, values: t22Runoff, lineLabel: 'T2.2', score: 'ME=0.816', tag: 'b',
    padTop: 17, xAxisHeight: 72, showXTitle: true
});
</script>
</body>
</html>
